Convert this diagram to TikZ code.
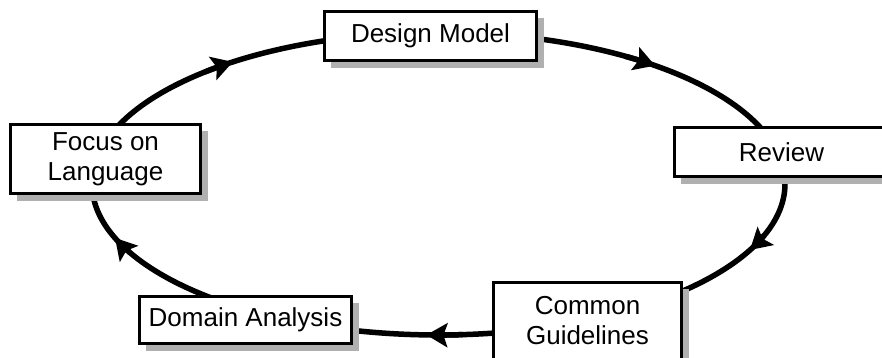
\documentclass[tikz,border=0pt]{standalone}
\usepackage{fontspec}
\setmainfont{Liberation Sans}
\usetikzlibrary{arrows.meta,shadows,calc}

\definecolor{shadowgray}{RGB}{176,176,176}

\tikzset{
  ring/.style={line width=5.5pt, black},
  tiphead/.style={-{Stealth[length=21pt,width=24pt,inset=4pt]}},
  stage/.style={draw=black, line width=2.8pt, fill=white, inner sep=0pt,
    align=center, font=\fontsize{26}{30}\selectfont,
    drop shadow={shadow xshift=7pt, shadow yshift=-7pt, opacity=1, fill=shadowgray}},
}

\begin{document}
\begin{tikzpicture}[x=1pt,y=1pt]
  \useasboundingbox (0,0) rectangle (882,358);
  \clip (0,0) rectangle (882,358);

  % centre of the cycle
  \coordinate (c) at (438.5,174.3);

  % the cycle itself
  \draw[ring] (c) ellipse [x radius=346.5, y radius=151.3];

  % arrowheads, running clockwise
  \foreach \t in {126.4, 51.3, -26, 268, 201} {
    \draw[ring, tiphead] ($(c)+(\t+6:346.5 and 151.3)$)
      arc[start angle=\t+6, end angle=\t, x radius=346.5, y radius=151.3];
  }

  % stages
  \node[stage, minimum width=212.5, minimum height=49.5] (design) at (430.5,322) {Design Model};
  \node[stage, minimum width=214.5, minimum height=49.5] (review) at (781.5,206) {Review};
  \node[stage, minimum width=188.5, minimum height=77.5] (common) at (587.5,37) {Common\\Guidelines};
  \node[stage, minimum width=212.5, minimum height=47.5] (domain) at (245.5,38) {Domain Analysis};
  \node[stage, minimum width=190.5, minimum height=69.5] (focus) at (105.5,199) {Focus on\\Language};
\end{tikzpicture}
\end{document}
